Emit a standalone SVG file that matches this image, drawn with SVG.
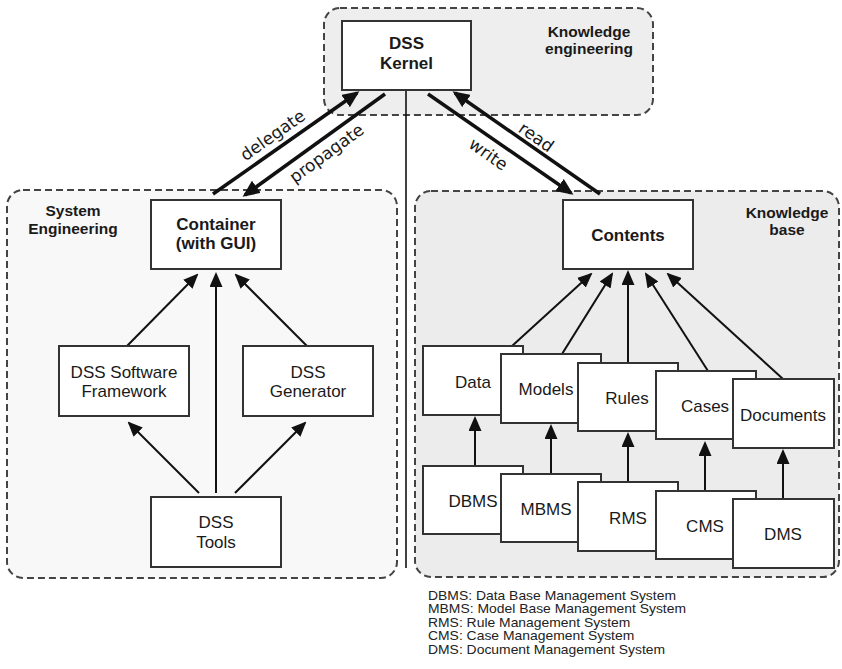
<svg xmlns="http://www.w3.org/2000/svg" width="842" height="669" viewBox="0 0 842 669">
  <style>
    .area { stroke: #444; stroke-width: 2; stroke-dasharray: 7 4; }
    .box { fill: #fff; stroke: #333; stroke-width: 2; }
    .lbl { font-family: "Liberation Sans", Arial, sans-serif; font-size: 17px; fill: #1a1a1a; text-anchor: middle; }
    .bold { font-weight: bold; }
    .title { font-family: "Liberation Sans", Arial, sans-serif; font-size: 15.5px; font-weight: bold; fill: #1a1a1a; text-anchor: middle; }
    .flow { font-family: "DejaVu Sans", sans-serif; font-size: 17px; fill: #1a1a1a; text-anchor: middle; }
    .legend { font-family: "Liberation Sans", Arial, sans-serif; font-size: 13px; fill: #222; }
    .thin { stroke: #111; stroke-width: 2; fill: none; marker-end: url(#ah); }
    .thick { stroke: #111; stroke-width: 3.5; fill: none; marker-end: url(#ahBig); }
  </style>
  <defs>
    <marker id="ah" viewBox="0 0 15 13" refX="13" refY="6.5" markerWidth="15" markerHeight="13" orient="auto" markerUnits="userSpaceOnUse">
      <path d="M0,0 L15,6.5 L0,13 z" fill="#111"/>
    </marker>
    <marker id="ahBig" viewBox="0 0 17 15" refX="14" refY="7.5" markerWidth="17" markerHeight="15" orient="auto" markerUnits="userSpaceOnUse">
      <path d="M0,0 L17,7.5 L0,15 z" fill="#111"/>
    </marker>
  </defs>

  <rect width="842" height="669" fill="#fff"/>

  <!-- dashed areas -->
  <g id="area-knowledge-engineering">
    <rect class="area" x="324" y="8" width="329" height="107" rx="16" fill="#eeeeee"/>
    <text class="title" x="589" y="37">Knowledge</text>
    <text class="title" x="589" y="54">engineering</text>
  </g>
  <g id="area-system-engineering">
    <rect class="area" x="7" y="190" width="390" height="388" rx="16" fill="#f8f8f8"/>
    <text class="title" x="73" y="216">System</text>
    <text class="title" x="73" y="234">Engineering</text>
  </g>
  <g id="area-knowledge-base">
    <rect class="area" x="415" y="191" width="424" height="386" rx="16" fill="#ececec"/>
    <text class="title" x="787" y="218">Knowledge</text>
    <text class="title" x="787" y="235">base</text>
  </g>

  <!-- connectors -->
  <g id="connectors">
    <line x1="406" y1="90" x2="406" y2="568" stroke="#111" stroke-width="1.6"/>

    <line class="thick" x1="213" y1="194" x2="357" y2="93"/>
    <line class="thick" x1="385" y1="94" x2="245" y2="195"/>
    <line class="thick" x1="428" y1="94" x2="571" y2="193"/>
    <line class="thick" x1="600" y1="194" x2="455" y2="93"/>

    <line class="thin" x1="127" y1="346" x2="197" y2="275"/>
    <line class="thin" x1="216" y1="493" x2="216" y2="274"/>
    <line class="thin" x1="307" y1="346" x2="236" y2="275"/>
    <line class="thin" x1="199" y1="493" x2="129" y2="423"/>
    <line class="thin" x1="235" y1="493" x2="305" y2="423"/>

    <line class="thin" x1="512" y1="346" x2="591" y2="274"/>
    <line class="thin" x1="562" y1="354" x2="612" y2="274"/>
    <line class="thin" x1="628" y1="363" x2="628" y2="272"/>
    <line class="thin" x1="708" y1="371" x2="646" y2="274"/>
    <line class="thin" x1="783" y1="379" x2="668" y2="274"/>

    <line class="thin" x1="475" y1="466" x2="475" y2="418"/>
    <line class="thin" x1="551" y1="474" x2="551" y2="426"/>
    <line class="thin" x1="628" y1="482" x2="628" y2="434"/>
    <line class="thin" x1="705" y1="491" x2="705" y2="443"/>
    <line class="thin" x1="783" y1="499" x2="783" y2="451"/>

    <text class="flow" transform="translate(276 140) rotate(-35)">delegate</text>
    <text class="flow" transform="translate(330 158) rotate(-36)">propagate</text>
    <text class="flow" transform="translate(485 159) rotate(35)">write</text>
    <text class="flow" transform="translate(533 142) rotate(35)">read</text>
  </g>

  <!-- nodes -->
  <g id="dss-kernel">
    <rect class="box" x="342" y="21" width="129" height="69"/>
    <text class="lbl bold" x="406.5" y="49">DSS</text>
    <text class="lbl bold" x="406.5" y="69">Kernel</text>
  </g>
  <g id="container">
    <rect class="box" x="151" y="200" width="130" height="69"/>
    <text class="lbl bold" x="216" y="230">Container</text>
    <text class="lbl bold" x="216" y="249">(with GUI)</text>
  </g>
  <g id="dss-software-framework">
    <rect class="box" x="59" y="346" width="130" height="70"/>
    <text class="lbl" x="124" y="378">DSS Software</text>
    <text class="lbl" x="124" y="397">Framework</text>
  </g>
  <g id="dss-generator">
    <rect class="box" x="243" y="346" width="130" height="70"/>
    <text class="lbl" x="308" y="378">DSS</text>
    <text class="lbl" x="308" y="397">Generator</text>
  </g>
  <g id="dss-tools">
    <rect class="box" x="151" y="497" width="130" height="70"/>
    <text class="lbl" x="216" y="528">DSS</text>
    <text class="lbl" x="216" y="548">Tools</text>
  </g>
  <g id="contents">
    <rect class="box" x="563" y="200" width="130" height="69"/>
    <text class="lbl bold" x="628" y="241">Contents</text>
  </g>

  <g id="data">
    <rect class="box" x="423" y="346" width="100" height="69"/>
    <text class="lbl" x="473" y="388">Data</text>
  </g>
  <g id="models">
    <rect class="box" x="501" y="354" width="100" height="69"/>
    <text class="lbl" x="546" y="395">Models</text>
  </g>
  <g id="rules">
    <rect class="box" x="578" y="363" width="100" height="68"/>
    <text class="lbl" x="627" y="404">Rules</text>
  </g>
  <g id="cases">
    <rect class="box" x="656" y="371" width="100" height="68"/>
    <text class="lbl" x="705" y="412">Cases</text>
  </g>
  <g id="documents">
    <rect class="box" x="733" y="379" width="101" height="69"/>
    <text class="lbl" x="783" y="421">Documents</text>
  </g>

  <g id="dbms">
    <rect class="box" x="423" y="466" width="100" height="68"/>
    <text class="lbl" x="473" y="507">DBMS</text>
  </g>
  <g id="mbms">
    <rect class="box" x="501" y="474" width="100" height="68"/>
    <text class="lbl" x="546" y="515">MBMS</text>
  </g>
  <g id="rms">
    <rect class="box" x="578" y="482" width="100" height="69"/>
    <text class="lbl" x="628" y="524">RMS</text>
  </g>
  <g id="cms">
    <rect class="box" x="656" y="491" width="100" height="68"/>
    <text class="lbl" x="705" y="532">CMS</text>
  </g>
  <g id="dms">
    <rect class="box" x="733" y="499" width="101" height="69"/>
    <text class="lbl" x="783" y="540">DMS</text>
  </g>

  <!-- abbreviations, set slightly wide with tight leading -->
  <g id="legend" transform="translate(428 0) scale(1.07 1)">
    <text class="legend" x="0" y="600">DBMS: Data Base Management System</text>
    <text class="legend" x="0" y="613.5">MBMS: Model Base Management System</text>
    <text class="legend" x="0" y="627">RMS: Rule Management System</text>
    <text class="legend" x="0" y="640.5">CMS: Case Management System</text>
    <text class="legend" x="0" y="654">DMS: Document Management System</text>
  </g>
</svg>
